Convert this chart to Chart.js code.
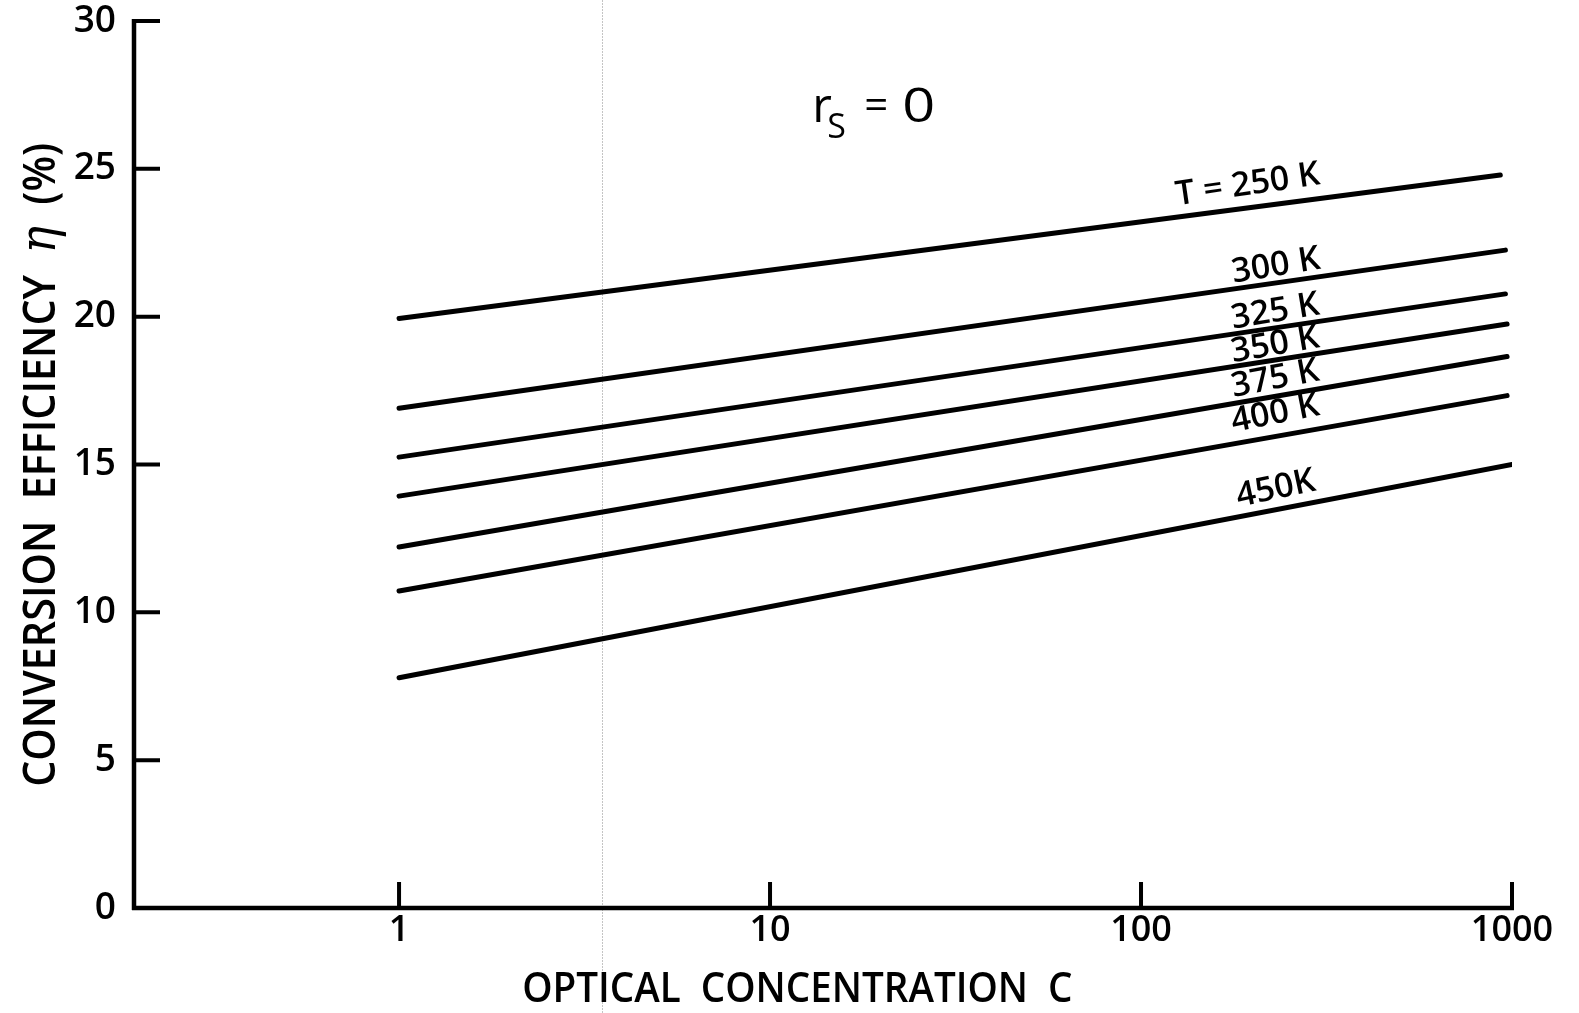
<!DOCTYPE html>
<html><head><meta charset="utf-8">
<script src="https://cdn.jsdelivr.net/npm/chart.js@4.4.1/dist/chart.umd.min.js"></script>
<style>html,body{margin:0;padding:0;background:#fff;}canvas{display:block;}</style>
</head><body>
<canvas id="c" width="1579" height="1013"></canvas>
<script>
// ---- data ----
const seriesNames = ['T = 250 K', '300 K', '325 K', '350 K', '375 K', '400 K', '450K'];
const startC = [1, 1, 1, 1, 1, 1, 1];
const endC = [930, 960, 960, 970, 970, 970, 1000];
const etaAtStart = [19.94, 16.90, 15.25, 13.93, 12.21, 10.72, 7.79];
const etaAtEnd = [24.79, 22.25, 20.77, 19.75, 18.65, 17.33, 15.00];
const labelC = [194, 231, 230, 230, 230, 230, 231];
const labelEta = [24.45, 21.71, 20.16, 19.04, 17.89, 16.71, 14.17];
const xTicks = [1, 10, 100, 1000];
const xTickLabels = ['1', '10', '100', '1000'];
const yTicks = [0, 5, 10, 15, 20, 25, 30];
const xTitle = 'OPTICAL  CONCENTRATION  C';
const yTitleParts = ['CONVERSION  EFFICIENCY  ', '\u03B7', '  (%)'];
const noteC = 13.0, noteEta = 26.58;   // r_S = 0 annotation anchor
const creaseC = 3.53;                  // faint scan crease

const FONT = '"Open Sans", "DejaVu Sans", sans-serif';

function drawFitted(ctx, text, font, x, y, angle, targetW) {
  ctx.save();
  ctx.font = font;
  const m = ctx.measureText(text);
  const ink = m.actualBoundingBoxLeft + m.actualBoundingBoxRight;
  const sx = targetW / ink;
  ctx.translate(x, y);
  ctx.rotate(angle);
  ctx.scale(sx, 1);
  ctx.textAlign = 'left';
  ctx.textBaseline = 'alphabetic';
  ctx.fillStyle = '#000';
  ctx.fillText(text, m.actualBoundingBoxLeft, 0);
  ctx.restore();
}

function drawFittedParts(ctx, parts, fonts, x, y, angle, targetW) {
  ctx.save();
  let total = 0;
  const widths = parts.map((t, i) => { ctx.font = fonts[i]; const w = ctx.measureText(t).width; total += w; return w; });
  ctx.font = fonts[0];
  const lb = ctx.measureText(parts[0]).actualBoundingBoxLeft;
  const sx = targetW / total;
  ctx.translate(x, y);
  ctx.rotate(angle);
  ctx.scale(sx, 1);
  ctx.textAlign = 'left';
  ctx.textBaseline = 'alphabetic';
  ctx.fillStyle = '#000';
  let cx = lb;
  parts.forEach((t, i) => { ctx.font = fonts[i]; ctx.fillText(t, cx, 0); cx += widths[i]; });
  ctx.restore();
}

const decor = {
  id: 'decor',
  beforeDatasetsDraw(chart) {
    const ctx = chart.ctx, xs = chart.scales.x;
    ctx.save();
    ctx.strokeStyle = '#c4c4c4';
    ctx.lineWidth = 1;
    ctx.setLineDash([2, 1]);
    const cx = Math.round(xs.getPixelForValue(creaseC)) + 0.5;
    ctx.beginPath(); ctx.moveTo(cx, 0); ctx.lineTo(cx, chart.height); ctx.stroke();
    ctx.restore();
  },
  afterDatasetsDraw(chart) {
    const ctx = chart.ctx, xs = chart.scales.x, ys = chart.scales.y;
    const left = chart.chartArea.left;
    const y0 = ys.getPixelForValue(0);
    const yTop = ys.getPixelForValue(30);
    const xEnd = xs.getPixelForValue(1000);
    ctx.save();
    ctx.strokeStyle = '#000';
    ctx.lineWidth = 4.5;
    ctx.lineCap = 'butt';
    ctx.beginPath();
    ctx.moveTo(left, yTop - 2); ctx.lineTo(left, y0 + 2);
    ctx.moveTo(left - 2, y0); ctx.lineTo(xEnd + 2, y0);
    ctx.stroke();
    ctx.lineWidth = 4;
    ctx.beginPath();
    yTicks.forEach(v => { if (v === 0) return; const p = ys.getPixelForValue(v); ctx.moveTo(left, p); ctx.lineTo(left + 26, p); });
    xTicks.forEach(v => { const p = xs.getPixelForValue(v); ctx.moveTo(p, y0); ctx.lineTo(p, y0 - 26); });
    ctx.stroke();

    // curve labels, rotated along their lines
    ctx.fillStyle = '#000';
    ctx.textAlign = 'center';
    ctx.textBaseline = 'middle';
    ctx.font = '600 34px ' + FONT;
    seriesNames.forEach((n, i) => {
      const ax = xs.getPixelForValue(startC[i]), ay = ys.getPixelForValue(etaAtStart[i]);
      const bx = xs.getPixelForValue(endC[i]), by = ys.getPixelForValue(etaAtEnd[i]);
      const ang = Math.atan2(by - ay, bx - ax) * 1.12;
      ctx.save();
      ctx.translate(xs.getPixelForValue(labelC[i]), ys.getPixelForValue(labelEta[i]));
      ctx.rotate(ang);
      ctx.fillText(n, 0, 0);
      ctx.restore();
    });

    // r_S = 0
    const nx = xs.getPixelForValue(noteC), ny = ys.getPixelForValue(noteEta);
    ctx.textAlign = 'left';
    ctx.textBaseline = 'alphabetic';
    ctx.font = '500 48px ' + FONT;
    ctx.fillText('r', nx, ny);
    ctx.font = '500 34px ' + FONT;
    ctx.fillText('S', nx + 15, ny + 16);
    ctx.font = '500 42px ' + FONT;
    ctx.fillText('=', nx + 52, ny - 3);
    ctx.save();
    ctx.translate(nx + 90, ny);
    ctx.scale(1.2, 1);
    ctx.font = '500 48px ' + FONT;
    ctx.fillText('0', 0, 0);
    ctx.restore();

    // axis titles
    drawFitted(ctx, xTitle, '600 42px ' + FONT, 524, 1002, 0, 548);
    drawFittedParts(ctx, yTitleParts,
      ['600 45px ' + FONT, 'italic 50px "DejaVu Serif", serif', '600 45px ' + FONT],
      55, 785, -Math.PI / 2, 644);
    ctx.restore();
  }
};

new Chart(document.getElementById('c').getContext('2d'), {
  type: 'scatter',
  data: {
    datasets: seriesNames.map((n, i) => ({
      label: n,
      data: [{ x: startC[i], y: etaAtStart[i] }, { x: endC[i], y: etaAtEnd[i] }],
      showLine: true,
      borderColor: '#000',
      backgroundColor: '#000',
      borderWidth: 5,
      borderCapStyle: 'round',
      pointRadius: 0,
      pointHoverRadius: 0,
      fill: false,
      tension: 0
    }))
  },
  options: {
    responsive: false,
    animation: false,
    devicePixelRatio: 1,
    layout: { padding: { left: 0, top: 21, right: 67, bottom: 0 } },
    plugins: { legend: { display: false }, tooltip: { enabled: false } },
    scales: {
      x: {
        type: 'logarithmic',
        min: 0.193,
        max: 1000,
        afterBuildTicks: s => { s.ticks = xTicks.map(v => ({ value: v })); },
        afterFit: s => { s.height = 105; },
        grid: { display: false },
        border: { display: false },
        ticks: {
          autoSkip: false, maxRotation: 0, minRotation: 0, padding: -7, color: '#000',
          font: { family: FONT, size: 36, weight: '600' },
          callback: (v, i) => xTickLabels[i]
        }
      },
      y: {
        type: 'linear',
        min: 0,
        max: 30,
        afterBuildTicks: s => { s.ticks = yTicks.map(v => ({ value: v })); },
        afterFit: s => { s.width = 134; },
        grid: { display: false },
        border: { display: false },
        ticks: { padding: 10, color: '#000', font: { family: FONT, size: 37, weight: '600', lineHeight: 0.4 } }
      }
    }
  },
  plugins: [decor]
});
</script>
</body></html>
